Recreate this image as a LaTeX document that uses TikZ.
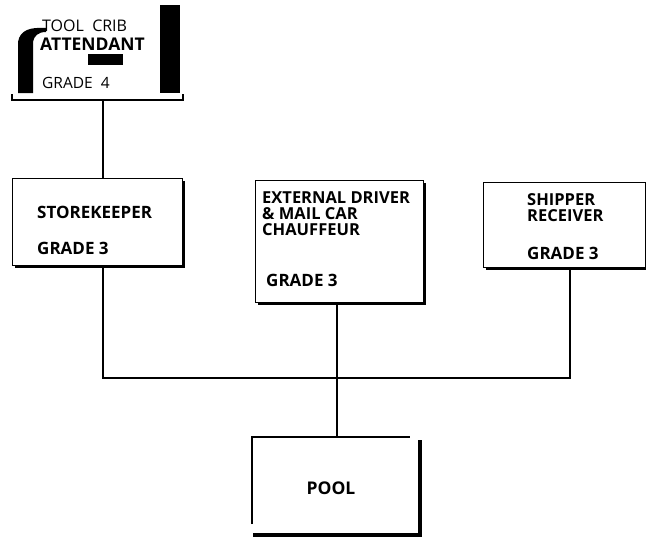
\documentclass[tikz,border=0pt]{standalone}
\usepackage{fontspec}
\setmainfont{Open Sans}
\begin{document}
\begin{tikzpicture}[x=1pt,y=-1pt,
  box/.style={draw, line width=1.2pt, inner sep=0pt, anchor=north west},
  shade/.style={line width=3.2pt},
  wire/.style={line width=1.2pt},
  lbl/.style={anchor=west, inner sep=0pt, font=\fontsize{17}{17}\selectfont\bfseries, align=left},
  tight/.style={anchor=west, inner sep=0pt, font=\fontsize{16.5}{16}\selectfont\bfseries, align=left},
  thin/.style={anchor=west, inner sep=0pt, font=\fontsize{16}{16}\selectfont}]
\useasboundingbox (0,0) rectangle (647,536);

% ---- top box (tool crib attendant)
\fill (18,93) -- (18,42) .. controls (20,30) and (30,27) .. (46,28) -- (46,32) .. controls (38,32) and (34,36) .. (33,42) -- (33,93) -- cycle;
\fill (160,5) rectangle (180,93);
\fill (88,54) rectangle (123,65);
\draw[line width=2pt] (12,94) -- (12,100) -- (183,100) -- (183,94);
\node[thin] (crib) at (42,26) {TOOL\ \ CRIB};
\node[lbl, font=\fontsize{17.5}{17.5}\selectfont\bfseries] (att) at (40,44) {ATTENDANT};
\node[thin, font=\fontsize{15.5}{15.5}\selectfont] (g4) at (42,83) {GRADE\ \ 4};
\coordinate (top) at (103,100);

% ---- storekeeper
\node[box, minimum width=170pt, minimum height=87pt] (store) at (12,178) {};
\draw[shade] ([yshift=-3pt]store.north east) -- (store.south east) -- ([xshift=3pt]store.south west);
\node[lbl] (storet) at (37,212) {STOREKEEPER};
\node[lbl] (storeg) at (37,248) {GRADE 3};

% ---- external driver
\node[box, minimum width=168pt, minimum height=122pt] (drv) at (255,180) {};
\draw[shade] ([yshift=-3pt]drv.north east) -- (drv.south east) -- ([xshift=3pt]drv.south west);
\node[tight] (drvt) at (262,214) {EXTERNAL DRIVER\\\& MAIL CAR\\CHAUFFEUR};
\node[lbl] (drvg) at (266,280) {GRADE 3};

% ---- shipper receiver
\node[box, minimum width=162pt, minimum height=85pt] (ship) at (483,182) {};
\draw[shade] ([xshift=3pt]ship.south west) -- (ship.south east);
\node[tight] (shipt) at (527,208) {SHIPPER\\RECEIVER};
\node[lbl] (shipg) at (527,253) {GRADE 3};

% ---- pool
\coordinate (ptl) at (252,437);
\coordinate (ptr) at (410,437);
\coordinate (pbl) at (252,524);
\node[inner sep=0pt, minimum width=168pt, minimum height=96pt, anchor=north west] (pool) at (252,437) {};
\draw[wire] (pbl) -- (ptl) -- (ptr);
\draw[line width=4pt] (420,440) -- (420,535) -- (253,535);
\node[lbl, anchor=center, font=\fontsize{17.5}{17.5}\selectfont\bfseries] (poolt) at (331,488) {POOL};

% ---- connectors
\coordinate (jl) at (103,378);
\coordinate (jm) at (337,378);
\coordinate (jr) at (570,378);
\draw[wire] (top) -- (top |- store.north);
\draw[wire] (jl |- store.south) -- (jl) -- (jr) -- (jr |- ship.south);
\draw[wire] (jm |- drv.south) -- (jm) -- (jm |- pool.north);
\end{tikzpicture}
\end{document}
